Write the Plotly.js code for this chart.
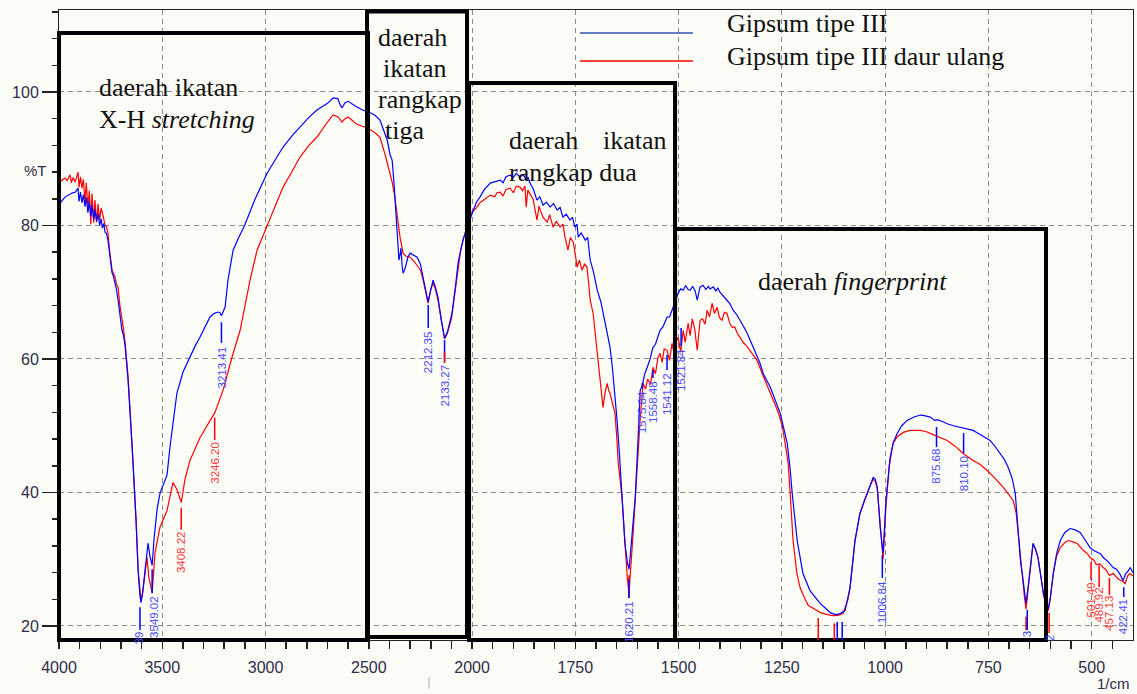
<!DOCTYPE html>
<html>
<head>
<meta charset="utf-8">
<script src="https://cdn.plot.ly/plotly-3.0.1.min.js"></script>
<style>html,body{margin:0;padding:0;background:#fcfcf7;}#chart{width:1137px;height:694px;}</style>
</head>
<body>
<div id="chart"></div>
<script>
// ---------- DATA ----------
const seriesNames = ["Gipsum tipe III", "Gipsum tipe III daur ulang"];

const blueWn = [4000,3995,3971,3950,3937,3920,3908,3903,3896,3889,3882,3874,3868,3860,3853,3846,3840,3832,3826,3818,3811,3803,3796,3790,3783,3777,3770,3763,3755,3750,3743,3736,3729,3722,3714,3705,3695,3688,3680,3666,3656,3642,3627,3617,3608,3603,3595,3584,3575,3569,3560,3549,3540,3525,3511,3496,3477,3462,3445,3429,3400,3366,3340,3317,3290,3269,3250,3235,3222,3213,3204,3196,3182,3157,3130,3104,3050,2993,2950,2915,2870,2833,2790,2751,2700,2673,2650,2640,2630,2615,2600,2560,2530,2500,2470,2446,2425,2411,2397,2387,2378,2370,2363,2358,2354,2349,2344,2339,2334,2325,2310,2300,2285,2266,2250,2242,2225,2213,2200,2189,2178,2165,2150,2140,2133,2120,2097,2080,2068,2055,2044,2024,2010,1998,1990,1981,1970,1956,1945,1932,1925,1918,1908,1900,1893,1884,1876,1869,1864,1860,1852,1843,1836,1828,1820,1811,1803,1794,1787,1780,1772,1763,1757,1751,1746,1743,1736,1726,1720,1714,1706,1697,1688,1678,1672,1666,1660,1654,1649,1643,1637,1630,1624,1620,1615,1610,1605,1598,1593,1588,1582,1576,1570,1562,1556,1545,1538,1528,1522,1516,1508,1501,1495,1489,1483,1477,1472,1466,1460,1455,1448,1441,1434,1428,1424,1416,1410,1405,1400,1392,1383,1376,1368,1360,1351,1343,1334,1327,1320,1308,1303,1295,1278,1265,1254,1245,1237,1230,1225,1213,1199,1182,1170,1157,1145,1133,1120,1109,1097,1085,1073,1061,1050,1044,1035,1029,1024,1019,1012,1005,998,988,980,971,960,947,930,915,908,891,880,874,860,850,835,818,810,800,787,770,755,746,735,722,712,702,692,685,678,672,668,663,659,654,649,645,642,636,630,622,617,610,605,600,593,585,576,565,552,540,528,515,504,495,486,478,472,460,448,440,432,424,418,412,407,400];
const blueT = [83.0,83.35,84.25,84.6,84.85,85.0,85.6,83.6,85.0,83.4,84.6,82.8,84.2,81.9,83.6,81.4,83.0,80.9,82.4,80.6,81.8,80.0,81.0,79.6,80.3,79.0,78.8,77.8,75.5,74.4,72.9,72.3,71.4,70.5,68.8,66.8,64.3,63.6,62.0,57.0,52.3,44.8,35.8,28.3,24.5,23.5,25.0,28.3,31.0,32.4,30.5,29.1,33.0,37.5,39.9,41.2,42.6,47.0,51.5,54.9,58.0,60.3,62.0,63.3,65.0,66.3,66.8,67.0,67.0,66.5,67.2,67.75,71.8,76.3,78.2,79.8,84.0,87.8,90.0,91.75,93.5,94.75,96.2,97.3,98.3,99.1,99.0,98.2,97.6,98.4,98.6,97.8,97.3,97.0,96.5,95.8,94.0,92.8,90.6,89.8,86.35,83.0,79.75,76.75,74.8,75.6,76.6,74.0,72.85,73.5,75.3,75.85,75.6,75.25,74.2,73.0,70.3,68.5,70.3,71.8,70.8,69.25,66.0,63.9,63.1,64.0,66.85,71.0,74.35,76.3,77.8,79.75,81.0,82.3,83.4,84.25,85.4,86.35,86.6,86.8,86.4,87.3,87.55,87.2,87.8,87.25,87.6,86.8,87.2,86.35,85.5,83.8,84.3,83.05,83.5,82.75,83.3,82.3,82.7,81.25,81.7,80.8,81.2,79.75,80.2,78.25,78.9,77.8,78.2,74.8,73.0,70.3,68.5,65.35,63.8,61.75,58.5,54.85,50.8,45.5,39.25,32.35,29.5,28.5,32.0,35.5,39.25,48.25,55.3,56.0,57.8,58.75,59.8,61.75,62.2,64.3,64.8,66.25,66.3,67.3,68.8,69.85,70.5,70.3,71.0,70.4,70.3,70.9,70.2,68.8,70.8,71.05,70.4,70.9,70.5,70.8,70.2,70.6,70.0,69.5,68.8,68.3,67.3,66.7,65.8,64.9,63.85,62.9,61.75,60.1,59.35,57.8,55.75,53.5,51.85,49.5,47.35,43.5,39.85,32.8,27.85,25.3,24.3,23.35,22.7,22.0,21.7,21.85,22.3,25.75,32.8,36.85,38.8,39.85,41.3,42.25,42.0,40.75,34.75,30.85,38.8,45.25,47.5,48.85,50.0,50.8,51.3,51.6,51.55,51.3,50.8,50.9,50.6,50.3,50.0,49.75,49.6,49.5,49.3,48.7,48.1,47.8,47.0,45.85,45.0,43.75,42.0,39.85,33.85,29.5,27.85,25.0,23.35,25.8,28.75,31.5,32.35,31.5,30.25,27.0,24.85,23.2,22.6,24.3,27.85,30.8,32.8,34.0,34.6,34.4,34.0,32.8,31.75,31.3,31.0,30.8,30.25,29.6,28.75,28.5,27.8,26.8,27.8,28.2,28.75,28.0];

const redWn = [4000,3995,3985,3971,3960,3947,3940,3932,3922,3913,3908,3903,3896,3889,3882,3874,3868,3860,3853,3846,3840,3832,3826,3818,3811,3803,3796,3787,3777,3770,3763,3755,3750,3743,3736,3729,3722,3714,3705,3695,3688,3680,3666,3656,3642,3627,3617,3608,3603,3595,3584,3574,3565,3549,3535,3511,3477,3448,3430,3408,3390,3366,3317,3245,3206,3162,3123,3075,3041,2993,2950,2915,2870,2833,2790,2751,2700,2673,2650,2640,2630,2615,2600,2560,2530,2500,2470,2446,2420,2400,2387,2375,2363,2355,2349,2340,2334,2320,2300,2280,2266,2250,2237,2225,2213,2200,2189,2178,2165,2150,2140,2133,2120,2100,2085,2068,2055,2040,2024,2014,2005,1990,1981,1970,1956,1945,1940,1932,1925,1918,1908,1900,1893,1884,1878,1872,1869,1865,1860,1852,1843,1838,1835,1828,1818,1812,1804,1796,1787,1780,1775,1768,1762,1755,1749,1746,1740,1734,1728,1722,1718,1714,1707,1702,1695,1689,1683,1678,1673,1669,1666,1660,1654,1650,1646,1637,1630,1624,1620,1615,1610,1605,1600,1593,1586,1580,1575,1568,1562,1556,1550,1545,1540,1535,1528,1522,1516,1510,1505,1501,1495,1489,1484,1477,1472,1467,1461,1455,1448,1442,1436,1431,1425,1419,1413,1407,1401,1395,1389,1383,1376,1370,1364,1358,1351,1344,1336,1327,1318,1310,1298,1285,1271,1260,1249,1242,1235,1229,1223,1214,1206,1196,1186,1170,1157,1140,1126,1114,1102,1090,1085,1073,1061,1050,1044,1035,1029,1024,1019,1012,1005,998,990,981,970,956,940,915,900,891,870,850,830,811,790,770,753,735,714,700,690,683,678,672,668,663,659,654,649,645,642,636,630,622,617,610,605,600,593,585,576,565,557,545,535,520,510,504,495,489,480,472,465,457,448,435,425,419,413,407,400];
const redT = [86.5,86.5,86.8,87.1,86.7,87.6,86.4,87.2,86.5,87.3,88.0,85.7,87.3,85.6,86.9,83.5,86.4,82.8,85.2,80.2,84.8,80.4,83.8,80.5,83.2,80.8,82.6,81.5,80.0,79.8,78.9,76.2,75.0,73.3,72.8,72.3,71.2,70.8,68.0,66.3,64.5,62.5,57.5,52.5,45.0,36.0,28.5,24.5,23.8,25.0,28.0,30.3,27.3,25.0,31.0,34.8,37.3,41.5,40.5,38.5,42.0,44.8,48.25,52.0,55.3,60.3,64.3,71.8,76.3,79.8,83.0,85.75,88.2,90.25,92.0,93.25,95.5,96.55,96.3,95.8,95.5,96.0,96.25,95.2,94.8,94.5,93.9,93.2,90.5,88.0,86.5,84.5,81.5,79.5,78.25,76.8,75.85,75.4,75.25,74.6,74.0,73.3,71.8,69.8,68.35,70.5,71.35,70.5,68.8,66.0,64.0,63.0,63.8,66.0,69.5,73.5,76.3,78.25,79.75,80.3,81.85,82.6,83.4,83.9,84.55,84.3,84.9,85.0,84.4,85.4,85.6,84.9,85.9,85.75,85.2,85.9,82.75,85.3,84.8,83.9,80.8,82.9,82.3,81.2,80.5,81.6,79.75,80.6,79.75,80.2,78.25,76.3,78.2,77.5,75.2,73.75,74.8,73.3,74.2,73.8,71.5,68.8,66.85,64.0,59.8,56.0,52.75,55.0,56.35,55.2,54.85,53.3,51.85,48.5,44.35,39.25,32.0,27.0,25.0,29.0,34.0,39.0,44.35,51.0,56.35,55.5,57.0,56.2,58.75,57.8,60.2,60.85,59.5,61.5,61.3,59.8,62.35,60.5,62.8,63.25,61.0,64.3,62.5,65.35,63.5,66.0,64.5,61.3,65.8,66.0,65.2,67.3,66.3,68.35,66.8,67.75,66.2,65.8,67.0,66.85,65.3,64.75,64.8,63.85,63.2,62.5,62.0,61.3,60.6,59.8,57.85,56.0,54.0,52.2,50.0,47.5,44.5,39.0,32.8,28.0,25.75,24.3,23.05,22.5,22.0,21.7,21.55,21.6,21.85,24.0,25.75,32.8,36.85,38.8,39.85,41.2,42.0,41.7,40.5,34.75,30.0,38.0,44.0,47.35,48.4,49.0,49.3,49.3,49.1,48.85,48.3,47.8,46.9,45.85,44.9,44.2,43.3,42.2,40.75,39.6,38.8,37.0,33.85,29.5,27.85,24.5,22.5,25.6,28.75,31.5,32.35,31.5,30.25,27.0,24.85,22.9,22.3,24.2,27.85,30.5,31.75,32.5,32.8,32.6,32.35,31.3,30.8,30.25,29.9,29.2,29.3,28.75,28.4,27.6,27.85,27.0,26.7,26.35,27.5,27.85,27.5];

// axis tick labels (wavenumber, 1/cm)
const xTickWn = [4000,3500,3000,2500,2000,1750,1500,1250,1000,750,500];
const yTickVals = [20,40,60,80,100];

// peak labels: [text, wavenumber at label, %T of label top, colour key]
const peakLabels = [
  ["3213.41",3213.41,62.1,"b"],["3549.02",3537,24.6,"b"],["39",3608,19.4,"b"],
  ["2212.35",2212.35,64.35,"b"],["2133.27",2133.27,59.25,"b"],["1620.21",1620.21,23.9,"b"],
  ["1575.84",1588,55.35,"b"],["1558.48",1562,56.85,"b"],["1541.12",1528,58.05,"b"],["1521.84",1494,61.65,"b"],
  ["1006.84",1006.84,26.9,"b"],["875.68",875.68,46.7,"b"],["810.10",810.10,45.6,"b"],
  ["3",656,19.4,"b"],["2",600,18.8,"b"],["422.41",422.41,24.2,"b"],
  ["3246.20",3246.20,47.7,"r"],["3408.22",3408.22,34.4,"r"],
  ["501.49",501.49,26.6,"r"],["489.92",482,25.85,"r"],["457.13",457.13,24.65,"r"]
];
// peak marker ticks: [wavenumber, %T top, %T bottom, colour key]
const peakMarks = [
  [3213.41,65.5,62.4,"b"],[3549.02,28.5,24.9,"b"],[3608,22.8,19.4,"b"],
  [2212.35,68.1,64.65,"b"],[2133.27,62.85,59.55,"b"],[2133.27,61.0,59.4,"r"],
  [1620.21,27.6,24.2,"r"],[1620.21,27.0,24.2,"b"],
  [1588,56.4,55.6,"b"],[1562,58.35,57.15,"b"],[1528,60.6,58.35,"b"],[1494,64.65,61.95,"b"],
  [1006.84,30.6,27.2,"b"],[875.68,49.8,46.8,"b"],[810.10,48.9,45.9,"b"],
  [1162,21.2,17.9,"r"],[1123,20.4,17.9,"r"],[1116,20.6,17.9,"b"],[1104,20.6,17.9,"b"],
  [659,21.4,19.4,"r"],[656,22.4,19.4,"b"],[603,21.95,18.95,"r"],
  [422.41,25.8,24.35,"b"],
  [3246.20,51.2,47.85,"r"],[3408.22,37.7,34.4,"r"],
  [501.49,29.6,26.9,"r"],[482,29.1,25.85,"r"],[457.13,27.2,24.65,"r"]
];

// ---------- SCALE (IR chart: scale doubles below 2000 1/cm) ----------
function U(w){ return w >= 2000 ? 4000 - w : 2000 + 2*(2000 - w); }

const minorWn = [];
for (let w = 3900; w > 2000; w -= 100) if (w % 500 !== 0) minorWn.push(w);
for (let w = 1950; w > 400; w -= 50) if (w % 250 !== 0) minorWn.push(w);

const BLUE = "#0000ff", RED = "#ff0000";
const colorOf = k => k === "b" ? BLUE : RED;
const labelColorOf = k => k === "b" ? "#4848ff" : "#ff3838";

const traces = [
  {x: redWn.map(U), y: redT, type: "scatter", mode: "lines", name: seriesNames[1],
   line: {color: RED, width: 1.2}, showlegend: false, hoverinfo: "skip"},
  {x: blueWn.map(U), y: blueT, type: "scatter", mode: "lines", name: seriesNames[0],
   line: {color: BLUE, width: 1.2}, showlegend: false, hoverinfo: "skip"}
];

const shapes = [];
// region boxes (paper coords)
const boxes = [
  [0, 0.2877, 0.0, 0.9635],
  [0.2868, 0.3799, 0.0048, 0.9975],
  [0.3818, 0.5736, 0.0, 0.8841],
  [0.5736, 0.9190, 0.0, 0.6524]
];
boxes.forEach(b => shapes.push({type: "rect", xref: "paper", yref: "paper",
  x0: b[0], x1: b[1], y0: b[2], y1: b[3], line: {color: "#000", width: 4}, layer: "above"}));
peakMarks.forEach(m => shapes.push({type: "line", xref: "x", yref: "y",
  x0: U(m[0]), x1: U(m[0]), y0: m[1], y1: m[2], line: {color: colorOf(m[3]), width: 1.5}}));
// legend samples
shapes.push({type: "line", xref: "paper", yref: "paper", x0: 0.4851, x1: 0.5903, y0: 0.9635, y1: 0.9635, line: {color: "#3355aa", width: 1.5}});
shapes.push({type: "line", xref: "paper", yref: "paper", x0: 0.4851, x1: 0.5903, y0: 0.919, y1: 0.919, line: {color: RED, width: 1.5}});
shapes.push({type: "line", xref: "paper", yref: "paper", x0: 0.3445, x1: 0.3445, y0: -0.059, y1: -0.077, line: {color: "#aaa", width: 1}});

const serif = {family: "Liberation Serif, Times New Roman, serif", size: 26, color: "#111"};
const ann = [];
function txt(t, x, y, extra){ ann.push(Object.assign({text: t, x: x, y: y, xref: "paper", yref: "paper",
  xanchor: "left", yanchor: "middle", showarrow: false, font: serif}, extra || {})); }
txt("daerah ikatan", 0.0354, 0.8762);
txt("X-H <i>stretching</i>", 0.0354, 0.8254);
txt("daerah", 0.2952, 0.9571);
txt("ikatan", 0.2998, 0.9079);
txt("rangkap", 0.2952, 0.8587);
txt("tiga", 0.3017, 0.8095);
txt("daerah", 0.4171, 0.7921);
txt("ikatan", 0.5047, 0.7921);
txt("rangkap dua", 0.4171, 0.7413);
txt("daerah <i>fingerprint</i>", 0.649, 0.5683);
txt(seriesNames[0], 0.6201, 0.9778);
txt(seriesNames[1], 0.6201, 0.9254);
ann.push({text: "%T", x: -0.0345, y: 0.7619, xref: "paper", yref: "paper", showarrow: false,
  font: {family: "Liberation Sans, Arial", size: 15, color: "#2e2c48"}});
ann.push({text: "1/cm", x: 0.999, y: -0.0698, xref: "paper", yref: "paper", xanchor: "right", yanchor: "middle",
  showarrow: false, font: {family: "Liberation Sans, Arial", size: 15, color: "#2e2c48"}});
peakLabels.forEach(p => ann.push({text: p[0], x: U(p[1]), y: p[2], xref: "x", yref: "y",
  textangle: -90, xanchor: "center", yanchor: "top", showarrow: false, borderpad: 0,
  font: {family: "Liberation Sans, Arial", size: 11.5, color: labelColorOf(p[3])}}));

const tickFont = {family: "Liberation Sans, Arial", size: 16, color: "#2e2c48"};
const layout = {
  width: 1137, height: 694,
  margin: {l: 59, r: 4, t: 10, b: 54},
  paper_bgcolor: "#fcfcf7", plot_bgcolor: "#fcfcf7",
  showlegend: false,
  xaxis: {
    range: [0, U(400)], tickmode: "array", tickvals: xTickWn.map(U), ticktext: xTickWn.map(String),
    ticks: "outside", ticklen: 8, tickwidth: 1.5, tickcolor: "#222", ticklabelstandoff: 5,
    showgrid: true, gridcolor: "#8a8a8a", griddash: "5px,4px", gridwidth: 1,
    showline: true, linecolor: "#222", linewidth: 1, mirror: true, zeroline: false,
    tickfont: tickFont,
    minor: {tickmode: "array", tickvals: minorWn.map(U), ticks: "outside", ticklen: 8, tickwidth: 1.5, tickcolor: "#222", showgrid: false}
  },
  yaxis: {
    range: [17.9, 112.28], tickmode: "array", tickvals: yTickVals, ticktext: yTickVals.map(String),
    ticks: "outside", ticklen: 16, tickwidth: 1.5, tickcolor: "#222",
    showgrid: true, gridcolor: "#8a8a8a", griddash: "5px,4px", gridwidth: 1,
    showline: true, linecolor: "#222", linewidth: 1, mirror: true, zeroline: false,
    tickfont: tickFont,
    minor: {tick0: 0, dtick: 4, ticks: "outside", ticklen: 6, tickwidth: 1.5, tickcolor: "#222", showgrid: false}
  },
  shapes: shapes,
  annotations: ann
};
Plotly.newPlot("chart", traces, layout, {staticPlot: true, displayModeBar: false});
</script>
</body>
</html>
